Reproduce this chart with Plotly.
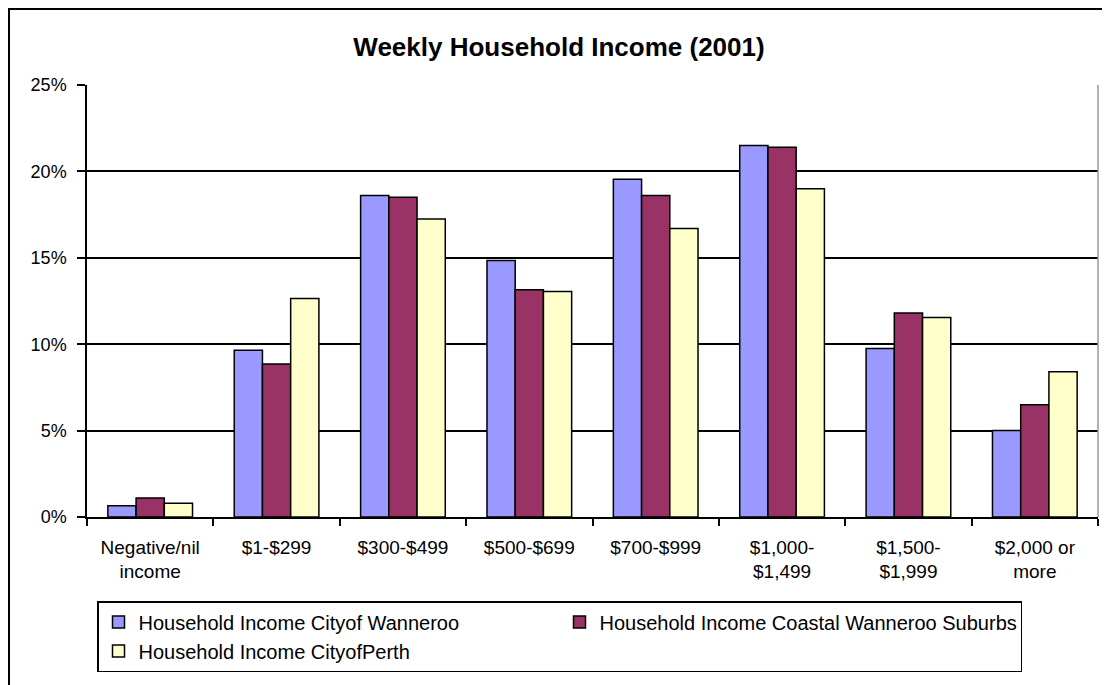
import plotly.graph_objects as go

categories = ["Negative/nil<br>income", "$1-$299", "$300-$499", "$500-$699", "$700-$999",
              "$1,000-<br>$1,499", "$1,500-<br>$1,999", "$2,000 or<br>more"]
wanneroo = [0.65, 9.65, 18.6, 14.85, 19.55, 21.5, 9.75, 5.0]
coastal = [1.1, 8.85, 18.5, 13.15, 18.6, 21.4, 11.8, 6.5]
perth = [0.8, 12.65, 17.25, 13.05, 16.7, 19.0, 11.55, 8.4]
series_names = ["Household Income Cityof Wanneroo",
                "Household Income Coastal Wanneroo Suburbs",
                "Household Income CityofPerth"]
colors = ["#9999FF", "#993366", "#FFFFCC"]
y_ticks = [0, 5, 10, 15, 20, 25]
y_tick_labels = ["0%", "5%", "10%", "15%", "20%", "25%"]

FONT = "Liberation Sans, Arial, sans-serif"
OFF = 8  # page body margin
W, H = 1110 - OFF, 685 - OFF
L, T = 87 - OFF, 85 - OFF
PLOT_W, PLOT_H = 1011, 432
B = H - (T + PLOT_H)
R = W - L - PLOT_W

fig = go.Figure()
for name, vals, col in zip(series_names, [wanneroo, coastal, perth], colors):
    fig.add_trace(go.Bar(x=categories, y=vals, name=name,
                         marker=dict(color=col, line=dict(color="black", width=1.5))))

fig.update_layout(
    width=W, height=H,
    paper_bgcolor="white", plot_bgcolor="white",
    margin=dict(l=L, r=R, t=T, b=B, autoexpand=False),
    barmode="group", bargap=0.33, bargroupgap=0,
    title=dict(text="<b>Weekly Household Income (2001)</b>", x=0.5, xanchor="center",
               y=1 - (47 - OFF) / H, yanchor="middle",
               font=dict(family=FONT, size=26, color="black")),
    font=dict(family=FONT, size=15, color="black"),
    showlegend=True,
    legend=dict(orientation="h", x=(97 - 87) / PLOT_W, xanchor="left",
                y=-(601 - 517) / PLOT_H, yanchor="top",
                entrywidth=416, bordercolor="black", borderwidth=1.5,
                bgcolor="white", font=dict(family=FONT, size=20, color="black"),
                traceorder="normal", itemwidth=30),
)
fig.update_xaxes(showline=True, linecolor="black", linewidth=1.5,
                 ticks="outside", tickson="boundaries", ticklen=7, tickcolor="black",
                 tickwidth=1.5, showgrid=False, ticklabelstandoff=12,
                 tickfont=dict(family=FONT, size=19, color="black"))
fig.update_yaxes(range=[0, 25], tickvals=y_ticks, ticktext=y_tick_labels,
                 showline=True, linecolor="black", linewidth=1.5,
                 ticks="outside", ticklen=8, tickcolor="black", tickwidth=1.5,
                 showgrid=True, gridcolor="black", gridwidth=1.5, zeroline=False,
                 ticklabelstandoff=7,
                 tickfont=dict(family=FONT, size=18, color="black"))

# plot-area right border (gray) and outer chart frame
fig.add_shape(type="line", xref="x domain", yref="y domain", x0=1, x1=1, y0=0, y1=1,
              line=dict(color="#999999", width=1.5))
fig.add_shape(type="rect", xref="paper", yref="paper",
              x0=-(L - 1) / PLOT_W, x1=1.2, y0=-(B + 20) / PLOT_H, y1=1 + (T - 1) / PLOT_H,
              line=dict(color="black", width=2), fillcolor="rgba(0,0,0,0)", layer="below")

fig.write_html("out.html")
